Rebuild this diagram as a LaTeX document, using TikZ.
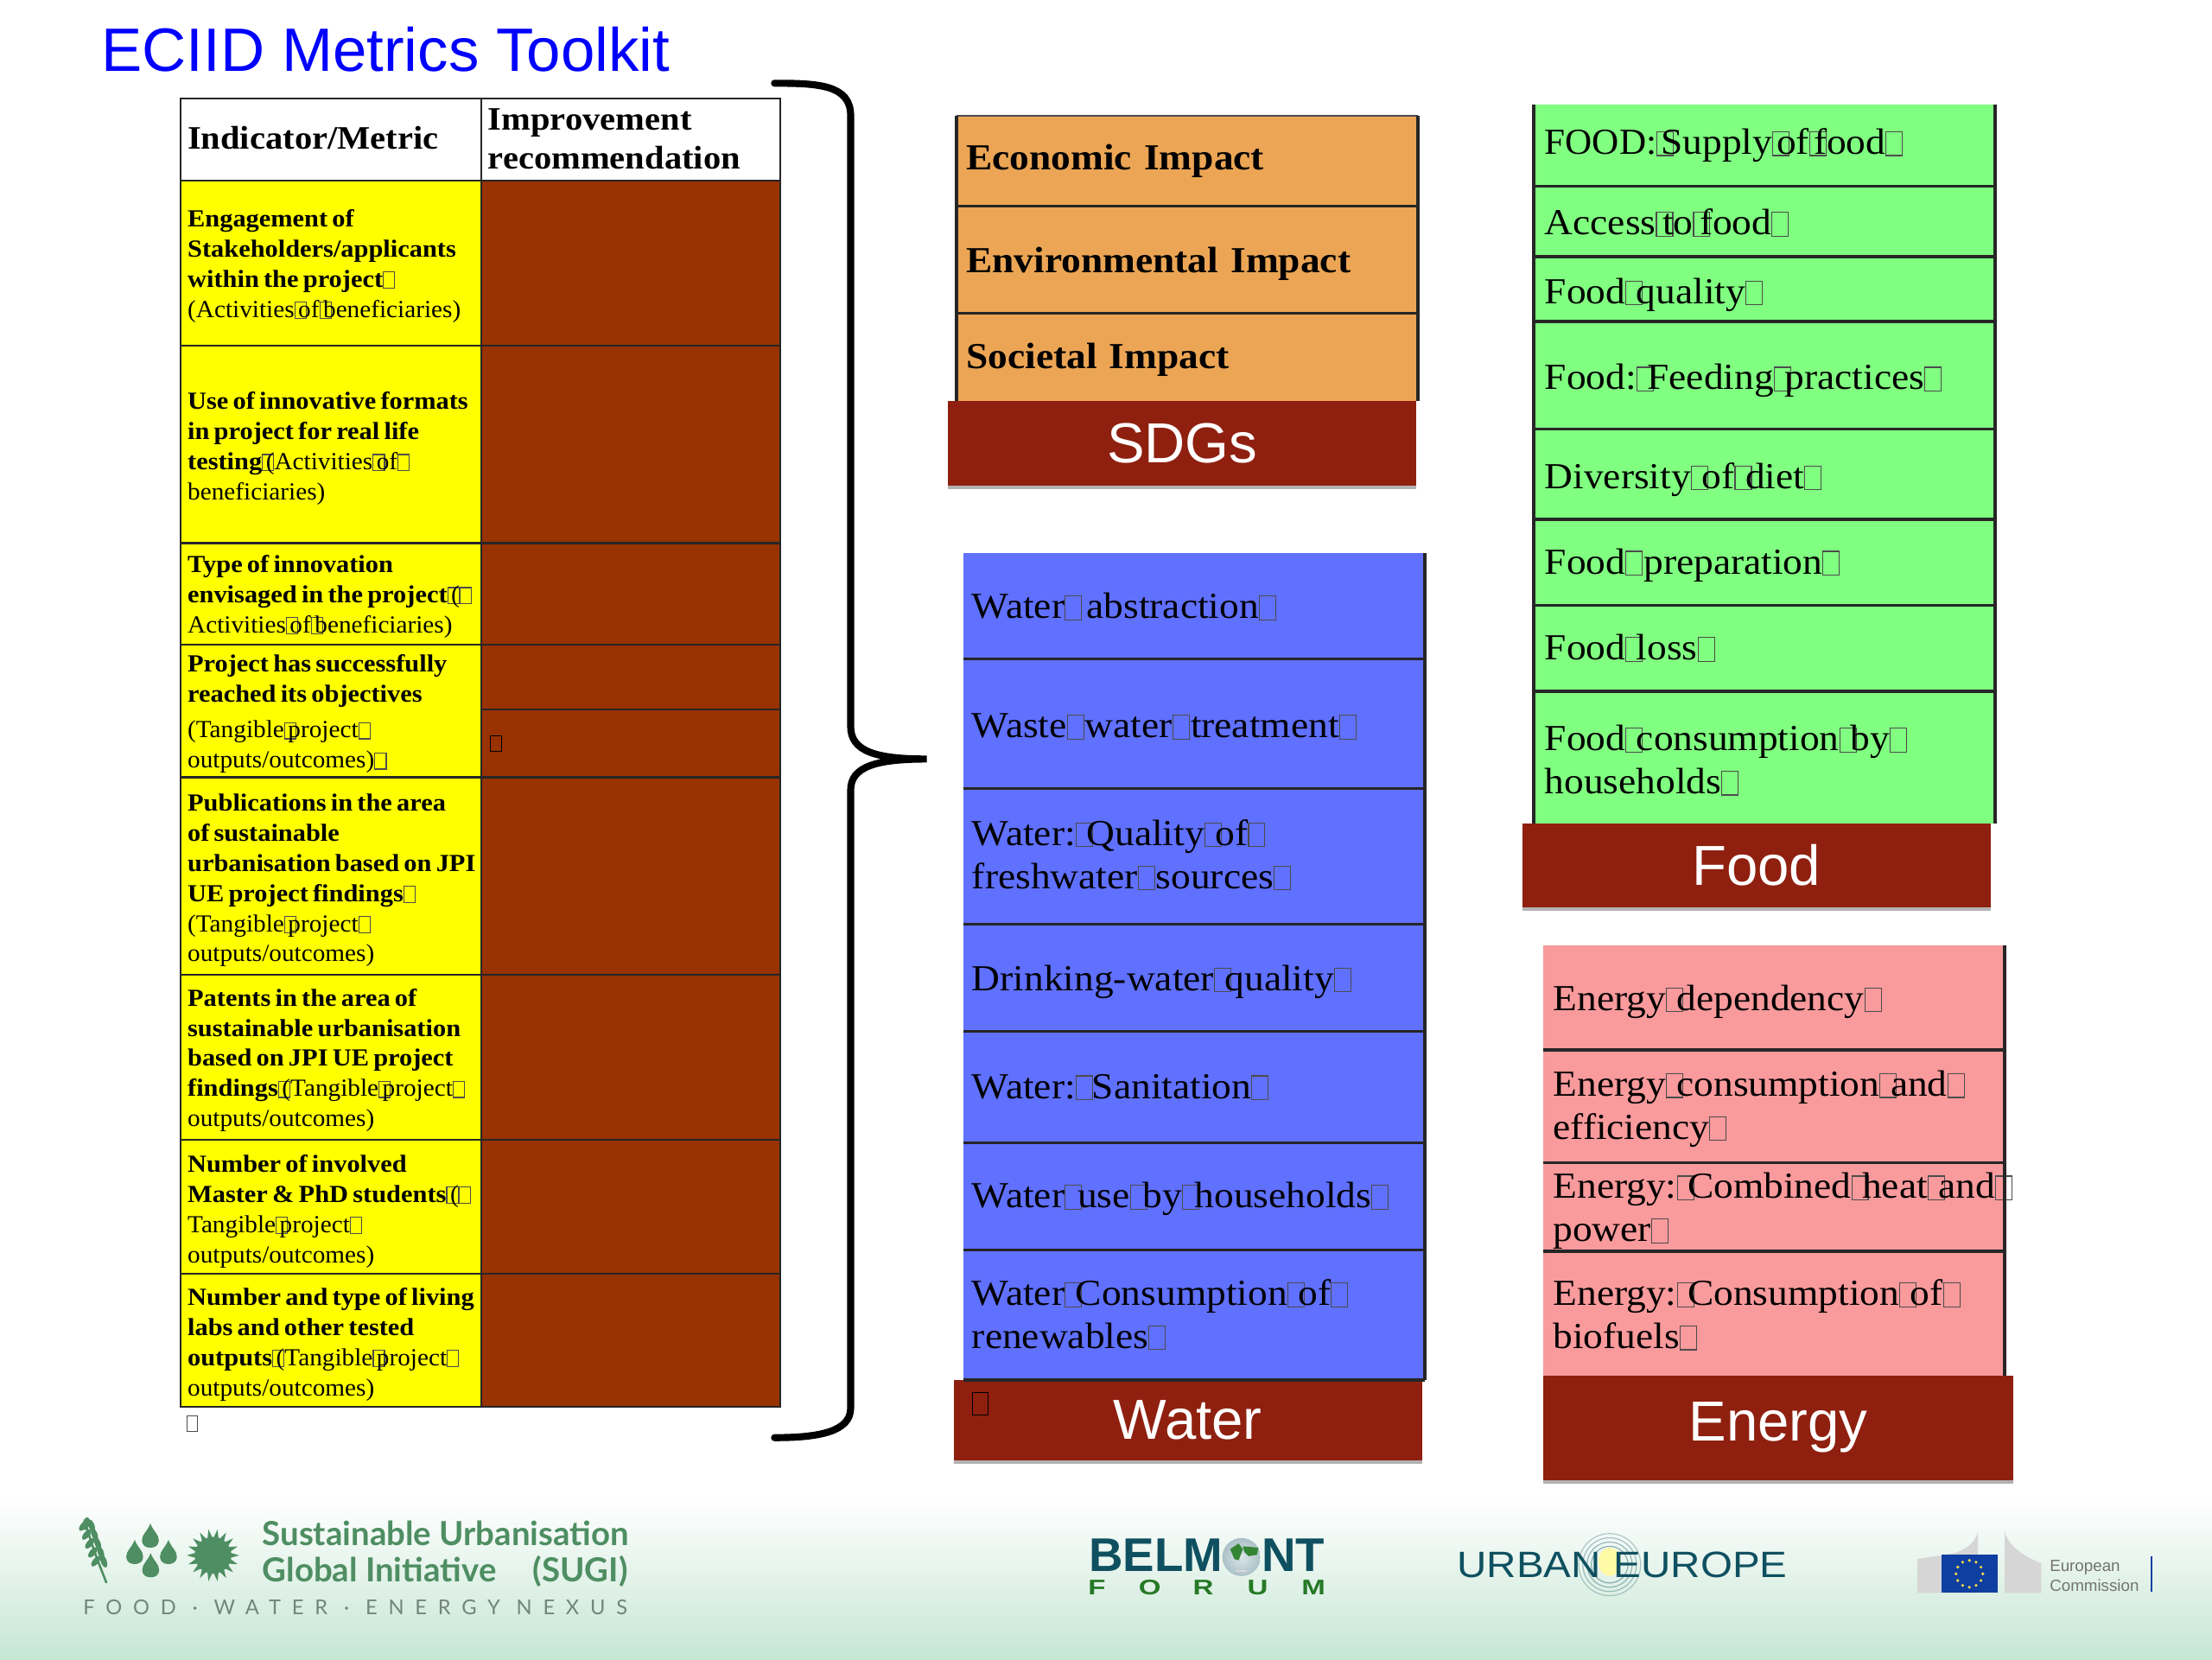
\documentclass[tikz,border=0pt]{standalone}
\usepackage{fontspec}
\usetikzlibrary{shadows,calc}
\setmainfont[FakeStretch=1.07]{Liberation Serif}
\newfontfamily\tblf[FakeStretch=1.03,BoldFeatures={FakeStretch=1.07}]{Liberation Serif}
\newfontfamily\hv{Liberation Sans}
\newfontfamily\lat{Lato}
\newfontfamily\latsp[LetterSpace=54]{Lato}
\newfontfamily\forum[FakeStretch=1.35]{Liberation Sans}
\newfontfamily\urb[FakeStretch=1.12]{Liberation Sans}
\definecolor{tblbrown}{HTML}{983200}
\definecolor{pureyel}{HTML}{FFFF00}
\definecolor{barred}{HTML}{8F2010}
\definecolor{sdgor}{HTML}{EBA554}
\definecolor{watbl}{HTML}{6070FF}
\definecolor{foodgr}{HTML}{80FF80}
\definecolor{engpk}{HTML}{F99A9C}
\definecolor{sugi}{HTML}{4E8E62}
\definecolor{teal}{HTML}{0F5060}
\definecolor{foot}{HTML}{C6E6D4}
\definecolor{flagb}{HTML}{0F3FA0}
\definecolor{stary}{HTML}{F5D94A}
\newcommand\tfadv{.3em}
\newcommand\tfc{black!70}
\newcommand\tf{\rlap{\raisebox{-.02em}{\color{\tfc}\fboxsep=0pt\fboxrule=.7pt\fbox{\hbox to .42em{\vrule width 0pt height .62em\hfil}}}}\hspace{\tfadv}}
\newcommand\dn[1]{\vspace*{#1pt}\relax}
\tikzset{
  cellbox/.style={rectangle,anchor=north west,inner ysep=0pt,outer sep=0pt,align=left,text=black},
  tblcell/.style={cellbox,draw=black!85,line width=1.4pt,font=\tblf\fontsize{17.4}{21.4}\selectfont,execute at begin node={\renewcommand\tfadv{.16em}\spaceskip=3.2pt\relax}},
  headcell/.style={cellbox,draw=black!85,line width=1.4pt,fill=white,font=\fontsize{23.2}{28}\selectfont\bfseries},
  yel/.style={tblcell,fill=pureyel},
  brn/.style={tblcell,fill=tblbrown},
  stackcell/.style={cellbox,font=\fontsize{26}{30.5}\selectfont},
  bandbar/.style={rectangle,anchor=north west,fill=barred,text=white,inner sep=0pt,outer sep=0pt,font=\hv\fontsize{40}{44}\selectfont,
     drop shadow={shadow xshift=0pt,shadow yshift=-2.5pt,opacity=.3,fill=black}},
  sep/.style={draw=black!85,line width=2.2pt},
  edge/.style={draw=black!85,line width=2.4pt},
  thinedge/.style={draw=black!70,line width=1.4pt},
  bracepath/.style={draw=black,line width=5pt,line cap=round},
  logot/.style={inner sep=0pt,outer sep=0pt,anchor=west},
}
\newcommand\cellpad{5}
\newcommand\cellnode[7]{\pgfmathsetmacro\hh{#4-#3}\pgfmathsetmacro\tw{#5-2*\cellpad}%
  \node[#6,inner xsep=\cellpad pt,minimum height=\hh pt,text width=\tw pt] (#1) at (#2,#3) {\rlap{\parbox[c]{600pt}{\raggedright #7}}};}
\newcommand\dropshape[4]{\fill[#4] (#1,#2-#3*1.15) .. controls (#1+#3*.25,#2-#3*.45) and (#1+#3*.75,#2-#3*.2) .. (#1+#3*.75,#2+#3*.35) .. controls (#1+#3*.75,#2+#3*.8) and (#1+#3*.4,#2+#3) .. (#1,#2+#3) .. controls (#1-#3*.4,#2+#3) and (#1-#3*.75,#2+#3*.8) .. (#1-#3*.75,#2+#3*.35) .. controls (#1-#3*.75,#2-#3*.2) and (#1-#3*.25,#2-#3*.45) .. (#1,#2-#3*1.15) -- cycle;}
\begin{document}
\begin{tikzpicture}[x=1pt,y=-1pt]
\useasboundingbox (0,0) rectangle (1568,1176);
\fill[white] (0,0) rectangle (1568,1176);
\shade[top color=white,bottom color=foot] (0,1062) rectangle (1568,1176);

% title
\node[logot,text=blue,font=\hv\fontsize{43.4}{48}\selectfont] (title) at (72,35) {ECIID Metrics Toolkit};

% table
\cellnode{h1}{128}{70}{128}{213}{headcell}{\dn{-3}Indicator/Metric}
\cellnode{h2}{341}{70}{128}{212}{headcell}{\dn{-1}Improvement\\recommendation}
\cellnode{a1}{128}{128}{245}{213}{yel}{\dn{4}\textbf{Engagement of}\\\textbf{Stakeholders/applicants}\\\textbf{within the project}\tf\\(Activities\tf of\tf beneficiaries)}
\cellnode{b1}{341}{128}{245}{212}{brn}{}
\cellnode{a2}{128}{245}{385}{213}{yel}{\dn{6}\textbf{Use of innovative formats}\\\textbf{in project for real life}\\\textbf{testing}\tf (Activities\tf of\tf\\beneficiaries)}
\cellnode{b2}{341}{245}{385}{212}{brn}{}
\cellnode{a3}{128}{385}{457}{213}{yel}{\dn{4}\textbf{Type of innovation}\\\textbf{envisaged in the project}\tf(\tf\\Activities\tf of\tf beneficiaries)}
\cellnode{b3}{341}{385}{457}{212}{brn}{}
\cellnode{a4}{128}{457}{551}{213}{yel}{\dn{4}\textbf{Project has successfully}\\\textbf{reached its objectives}\\[4pt](Tangible\tf project\tf\\outputs/outcomes)\tf}
\cellnode{b4}{341}{457}{503}{212}{brn}{}
\cellnode{b4x}{341}{503}{551}{212}{brn}{}
\node[inner sep=0pt,anchor=center,font=\fontsize{17}{20}\selectfont] (b4tofu) at (347.5,527) {\renewcommand\tfc{black}\tf};
\cellnode{a5}{128}{551}{691}{213}{yel}{\dn{6}\textbf{Publications in the area}\\\textbf{of sustainable}\\\textbf{urbanisation based on JPI}\\\textbf{UE project findings}\tf\\(Tangible\tf project\tf\\outputs/outcomes)}
\cellnode{b5}{341}{551}{691}{212}{brn}{}
\cellnode{a6}{128}{691}{808}{213}{yel}{\dn{4}\textbf{Patents in the area of}\\\textbf{sustainable urbanisation}\\\textbf{based on JPI UE project}\\\textbf{findings}\tf (Tangible\tf project\tf\\outputs/outcomes)}
\cellnode{b6}{341}{691}{808}{212}{brn}{}
\cellnode{a7}{128}{808}{903}{213}{yel}{\dn{6}\textbf{Number of involved}\\\textbf{Master \& PhD students}\tf(\tf\\Tangible\tf project\tf\\outputs/outcomes)}
\cellnode{b7}{341}{808}{903}{212}{brn}{}
\cellnode{a8}{128}{903}{997}{213}{yel}{\dn{6}\textbf{Number and type of living}\\\textbf{labs and other tested}\\\textbf{outputs}\tf (Tangible\tf project\tf\\outputs/outcomes)}
\cellnode{b8}{341}{903}{997}{212}{brn}{}
\node[inner sep=0pt,anchor=center,font=\fontsize{17}{20}\selectfont] (tablend) at (132,1009) {\tf};

% brace
\draw[bracepath] (549,59) .. controls (580,59) and (603,60) .. (603,82) -- (603,515) .. controls (603,533) and (622,538) .. (657,538) .. controls (622,538) and (603,543) .. (603,560) -- (603,998) .. controls (603,1015) and (580,1019) .. (549,1019);

% SDG stack
\renewcommand\cellpad{7}
\cellnode{s1}{678}{82}{146}{327}{stackcell,fill=sdgor}{\textbf{Economic Impact}}
\cellnode{s2}{678}{146}{222}{327}{stackcell,fill=sdgor}{\dn{6}\textbf{Environmental Impact}}
\cellnode{s3}{678}{222}{284}{327}{stackcell,fill=sdgor}{\dn{4}\textbf{Societal Impact}}
\draw[thinedge] (s1.north west) -- (s1.north east);
\draw[sep] (s1.south west) -- (s1.south east);
\draw[sep] (s2.south west) -- (s2.south east);
\draw[edge] (s1.north west) -- (s3.south west);
\draw[edge] (s1.north east) -- (s3.south east);
\node[bandbar,minimum width=332pt,minimum height=60pt] (sdgbar) at (672,284) {SDGs};

% Water stack
\renewcommand\cellpad{6}
\cellnode{w1}{683}{392}{467}{327}{stackcell,fill=watbl}{\dn{1}\renewcommand\tfadv{.6em}Water\tf abstraction\tf}
\cellnode{w2}{683}{467}{559}{327}{stackcell,fill=watbl}{\dn{4}\renewcommand\tfadv{.5em}Waste\tf water\tf treatment\tf}
\cellnode{w3}{683}{559}{655}{327}{stackcell,fill=watbl}{\dn{-2}Water:\tf Quality\tf of\tf\\\renewcommand\tfadv{.5em}freshwater\tf sources\tf}
\cellnode{w4}{683}{655}{731}{327}{stackcell,fill=watbl}{\dn{6}Drinking-water\tf quality\tf}
\cellnode{w5}{683}{731}{810}{327}{stackcell,fill=watbl}{\renewcommand\tfadv{.45em}Water:\tf Sanitation\tf}
\cellnode{w6}{683}{810}{886}{327}{stackcell,fill=watbl}{\dn{4}\renewcommand\tfadv{.35em}Water\tf use\tf by\tf households\tf}
\cellnode{w7}{683}{886}{978}{327}{stackcell,fill=watbl}{Water\tf Consumption\tf of\tf\\renewables\tf}
\foreach \n in {w1,w2,w3,w4,w5,w6} \draw[sep] (\n.south west) -- (\n.south east);
\draw[edge] (w1.north east) -- (w7.south east);
\node[bandbar,minimum width=332pt,minimum height=57pt] (watbar) at (676,978) {Water};
\draw[sep] (w7.south west) -- (w7.south east);
\node[inner sep=0pt,font=\fontsize{24}{26}\selectfont] (wattofu) at (689,995) {\renewcommand\tfc{black}\tf};

% Food stack
\renewcommand\cellpad{8}
\cellnode{f1}{1087}{74}{132}{327}{stackcell,fill=foodgr}{\renewcommand\tfadv{.12em}\scalebox{.95}[1]{FOOD:}\tf Supply\tf of\tf food\tf}
\cellnode{f2}{1087}{132}{182}{327}{stackcell,fill=foodgr}{\dn{2}\renewcommand\tfadv{.18em}Access\tf to\tf food\tf}
\cellnode{f3}{1087}{182}{228}{327}{stackcell,fill=foodgr}{\dn{8}Food\tf quality\tf}
\cellnode{f4}{1087}{228}{304}{327}{stackcell,fill=foodgr}{\dn{8}Food:\tf Feeding\tf practices\tf}
\cellnode{f5}{1087}{304}{368}{327}{stackcell,fill=foodgr}{\dn{8}Diversity\tf of\tf diet\tf}
\cellnode{f6}{1087}{368}{429}{327}{stackcell,fill=foodgr}{\dn{4}\renewcommand\tfadv{.5em}Food\tf preparation\tf}
\cellnode{f7}{1087}{429}{490}{327}{stackcell,fill=foodgr}{Food\tf loss\tf}
\cellnode{f8}{1087}{490}{584}{327}{stackcell,fill=foodgr}{\dn{4}Food\tf consumption\tf by\tf\\households\tf}
\foreach \n in {f1,f2,f3,f4,f5,f6,f7} \draw[sep] (\n.south west) -- (\n.south east);
\draw[edge] (f1.north west) -- (f8.south west);
\draw[edge] (f1.north east) -- (f8.south east);
\node[bandbar,minimum width=332pt,minimum height=59pt] (foodbar) at (1079,584) {Food};

% Energy stack
\renewcommand\cellpad{7}
\cellnode{e1}{1094}{670}{744}{327}{stackcell,fill=engpk}{\dn{6}Energy\tf dependency\tf}
\cellnode{e2}{1094}{744}{824}{327}{stackcell,fill=engpk}{\dn{4}Energy\tf consumption\tf and\tf\\efficiency\tf}
\cellnode{e3}{1094}{824}{887}{327}{stackcell,fill=engpk}{\dn{6}Energy:\tf Combined\tf heat\tf and\tf\\power\tf}
\cellnode{e4}{1094}{887}{975}{327}{stackcell,fill=engpk}{\dn{2}Energy:\tf Consumption\tf of\tf\\biofuels\tf}
\foreach \n in {e1,e2,e3} \draw[sep] (\n.south west) -- (\n.south east);
\draw[edge] (e1.north east) -- (e4.south east);
\node[bandbar,minimum width=333pt,minimum height=74pt] (engbar) at (1094,975) {Energy};

% SUGI logo
\draw[sugi,line width=1.6pt] (60,1077) .. controls (64,1093) and (70,1108) .. (75.5,1122);
\fill[sugi,rotate around={-15:(61,1080)}] (61,1080) ellipse (2.4 and 4.6);
\foreach \t in {.12,.26,.40,.54,.68}{
  \pgfmathsetmacro\px{60+15.5*\t}\pgfmathsetmacro\py{1077+45*\t}
  \fill[sugi,rotate around={-40:(\px-2.6,\py-1)}] (\px-2.6,\py-1) ellipse (2.1 and 4.4);
  \fill[sugi,rotate around={20:(\px+3,\py-1)}] (\px+3,\py-1) ellipse (2.1 and 4.6);
}
\dropshape{106.6}{1089}{8}{sugi}
\dropshape{95.5}{1100.6}{8}{sugi}
\dropshape{119.4}{1100.6}{8}{sugi}
\dropshape{106.8}{1110}{8}{sugi}
\fill[sugi] (151,1102.4) circle (13);
\foreach \a in {0,20,...,340}
  \fill[sugi] ($(151,1102.4)+(\a-8:12.6)$) -- ($(151,1102.4)+(\a:18.6)$) -- ($(151,1102.4)+(\a+8:12.6)$) -- cycle;
\node[logot,text=sugi,font=\lat\bfseries\fontsize{23.5}{26}\selectfont] (sugi1) at (186,1087) {Sustainable Urbanisation};
\node[logot,text=sugi,font=\lat\bfseries\fontsize{23.5}{26}\selectfont] (sugi2) at (186,1114) {Global Initiative\hspace{1.1em}(SUGI)};
\node[logot,text=black!42!foot,font=\latsp\fontsize{14.5}{16}\selectfont] (sugi3) at (59,1139) {FOOD · WATER · ENERGY NEXUS};

% Belmont logo
\node[logot,text=teal,font=\hv\bfseries\fontsize{33.5}{36}\selectfont] (bel1) at (772,1102) {BELM};
\node[logot,anchor=east,text=teal,font=\hv\bfseries\fontsize{33.5}{36}\selectfont] (bel2) at (939,1102) {NT};
\shade[inner color=white!85!teal,outer color=teal!35!white] (880,1103.6) circle (13.5);
\fill[green!40!black!80] (872,1098) -- (878,1094) -- (881,1098) -- (878,1106) -- (875,1105) -- cycle;
\fill[green!40!black!80] (881,1096) -- (892,1097) -- (891,1102) -- (885,1103) -- (882,1100) -- cycle;
\fill[white!85!black] (876,1113) rectangle (884,1114.3);
\foreach \l/\c/\i in {F/777.5/f,O/815/o,R/853/r,U/891.5/u,M/931/m}
  \node[inner sep=0pt,outer sep=0pt,text=green!38!black!85,font=\forum\bfseries\fontsize{15}{16}\selectfont] (forum\i) at (\c,1125) {\l};

% Urban Europe logo
\foreach \r/\o in {22/.3,19/.35,16/.4,13/.45}
  \draw[teal,opacity=\o,line width=.7pt] (1141,1109) circle (\r);
\fill[yellow!35] (1141,1107) ellipse (8 and 10);
\node[logot,text=teal,font=\urb\fontsize{26}{28}\selectfont] (urb1) at (1033,1109) {URBAN};
\node[logot,anchor=east,text=teal,font=\urb\fontsize{26}{28}\selectfont] (urb2) at (1267,1109) {EUROPE};

% European Commission logo
\fill[black!16] (1359,1105) -- (1385,1101) .. controls (1395,1098) and (1401,1092) .. (1402,1085) -- (1402,1129) -- (1359,1129) -- cycle;
\fill[black!16] (1421,1085) .. controls (1423,1096) and (1436,1104) .. (1447,1108) -- (1447,1129) -- (1421,1129) -- cycle;
\fill[flagb] (1376,1102) rectangle (1416,1129);
\foreach \a in {0,30,...,330} \fill[stary] ($(1396,1115.5)+(\a:9.5)$) circle (1.1);
\node[logot,text=black!55,font=\hv\fontsize{11.5}{13}\selectfont] (ec1) at (1453,1111) {European};
\node[logot,text=black!55,font=\hv\fontsize{11.5}{13}\selectfont] (ec2) at (1453,1124) {Commission};
\fill[flagb] (1524.3,1103) rectangle (1526,1128);
\end{tikzpicture}
\end{document}
